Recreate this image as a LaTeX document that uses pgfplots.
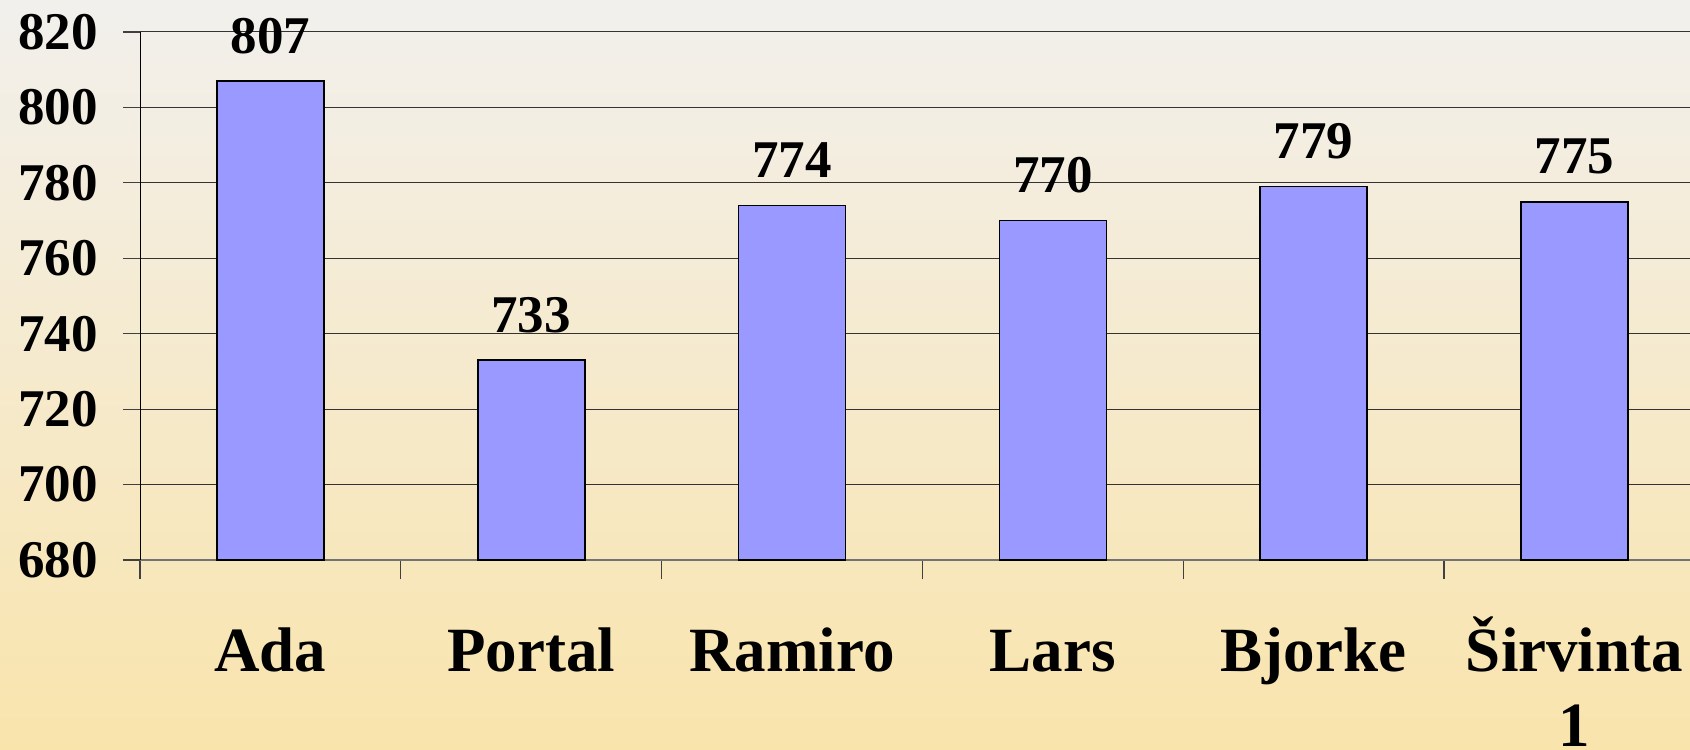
\documentclass[border=0pt]{standalone}
\usepackage{fontspec}
\setmainfont{Liberation Serif}
\usepackage{pgfplots}
\pgfplotsset{compat=1.18}
\begin{document}
\begin{tikzpicture}
\definecolor{bgtop}{RGB}{242,240,237}
\definecolor{bgbot}{RGB}{249,228,172}
\definecolor{barc}{RGB}{153,153,255}
\clip (0,0) rectangle (845pt,374.5pt);
\shade[top color=bgtop, bottom color=bgbot] (0,0) rectangle (845pt,374.5pt);
\begin{axis}[
  at={(70pt,94.5pt)}, anchor=south west,
  scale only axis, width=775pt, height=264pt,
  xmin=-0.5, xmax=5.443, ymin=680, ymax=820,
  ytick={680,700,...,820},
  xtick={0,...,5},
  xticklabels={Ada,Portal,Ramiro,Lars,Bjorke,{\begin{tabular}[t]{@{}c@{}}Širvinta\\1\end{tabular}}},
  minor xtick={-0.5,0.5,...,5.5},
  axis lines*=left,
  tick align=outside,
  major tick length=8.5pt, minor tick length=9.5pt,
  major x tick style={draw=none},
  minor x tick style={draw=black!75, line width=0.6pt},
  y tick style={draw=black!75, line width=0.6pt},
  x axis line style={draw=black!55, line width=1pt},
  y axis line style={draw=black, line width=0.5pt},
  ymajorgrids,
  major grid style={draw=black!80, line width=0.5pt},
  /pgf/number format/assume math mode=true,
  yticklabel style={font=\bfseries\fontsize{26.5pt}{32pt}\selectfont, anchor=east, inner sep=0pt, xshift=-12.5pt},
  xticklabel style={font=\bfseries\fontsize{31.5pt}{37.8pt}\selectfont, anchor=base, inner sep=0pt, yshift=-47pt},
  ybar, bar width=53.5pt,
  clip mode=individual,
  nodes near coords,
  nodes near coords style={font=\bfseries\fontsize{26.5pt}{32pt}\selectfont, anchor=base, inner sep=0pt, yshift=14pt, text=black},
]
\addplot[fill=barc, draw=black, line width=0.8pt] coordinates {(0,807) (1,733) (2,774) (3,770) (4,779) (5,775)};
\end{axis}
\end{tikzpicture}
\end{document}
